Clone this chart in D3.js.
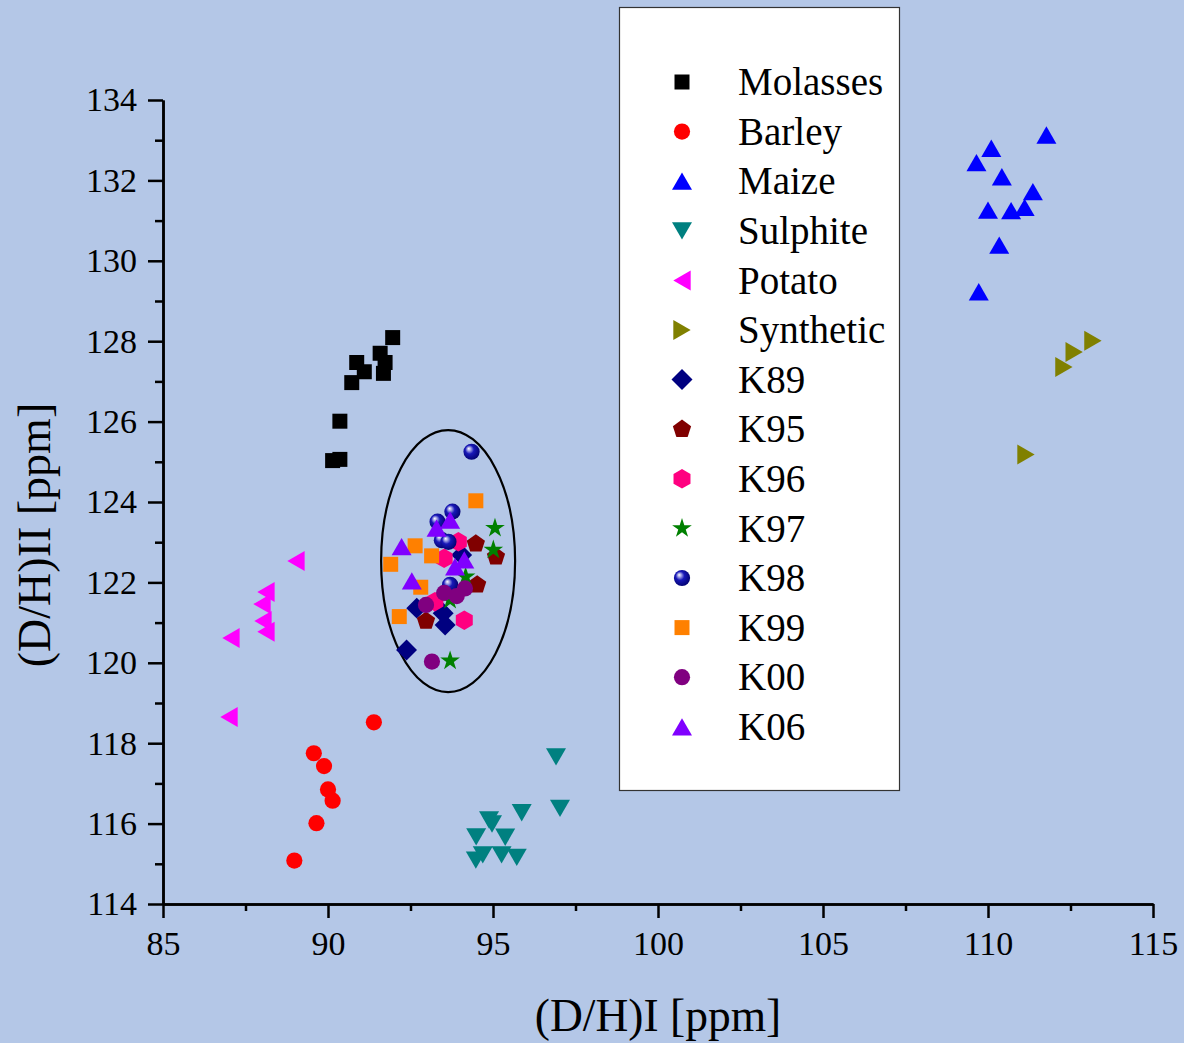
<!doctype html>
<html lang="en">
<head>
<meta charset="utf-8">
<title>D/H scatter</title>
<script src="https://cdn.jsdelivr.net/npm/d3@7"></script>
<style>
  body { margin: 0; background: #b4c7e7; }
  svg { display: block; font-family: "Liberation Serif", "Times New Roman", serif; }
  .axis path, .axis line { stroke: #000; stroke-width: 2.5; }
</style>
</head>
<body>
<script>
// data: [(D/H)I, (D/H)II]
var molasses = [[91.96,128.09],[91.58,127.70],[91.73,127.47],[91.68,127.20],[90.87,127.47],
                [91.10,127.24],[90.72,126.97],[90.36,126.01],[90.36,125.06],[90.14,125.03]];
var barley = [[91.39,118.52],[89.57,117.75],[89.88,117.43],[90.00,116.85],[90.14,116.57],
              [89.65,116.01],[88.98,115.08]];
var maize = [[111.77,133.13],[110.10,132.80],[109.65,132.44],[110.42,132.09],[111.36,131.72],
             [111.11,131.33],[110.00,131.26],[110.70,131.25],[110.34,130.39],[109.72,129.23]];
var sulphite = [[96.91,117.66],[95.87,116.27],[97.03,116.38],[94.88,116.09],[94.97,115.99],
                [94.49,115.67],[95.37,115.66],[94.69,115.22],[94.48,115.09],[95.26,115.22],[95.72,115.16]];
var potato = [[89.03,122.53],[88.12,121.76],[88.00,121.46],[88.03,121.04],[88.12,120.77],
              [87.06,120.62],[87.00,118.65]];
var synthetic = [[113.18,128.01],[112.61,127.73],[112.30,127.36],[111.15,125.18]];
var k89 = [[94.05,122.68],[92.69,121.36],[93.49,121.23],[93.55,120.94],[92.38,120.32]];
var k95 = [[94.48,122.96],[95.09,122.64],[94.52,121.94],[92.97,121.04]];
var k96 = [[93.95,123.01],[93.52,122.60],[93.24,121.52],[94.13,121.06]];
var k97 = [[95.06,123.35],[95.01,122.81],[94.17,122.14],[93.70,121.56],[93.70,120.05]];
var k98 = [[94.35,125.25],[93.77,123.76],[93.32,123.51],[93.45,123.05],[93.65,123.01],[93.70,121.94]];
var k99 = [[94.48,124.03],[92.64,122.91],[93.14,122.66],[91.90,122.45],[92.81,121.88],[92.16,121.15]];
var k00 = [[94.15,121.85],[93.90,121.66],[93.52,121.74],[92.97,121.44],[93.15,120.03]];
var k06 = [[93.70,123.55],[93.29,123.35],[92.23,122.89],[94.13,122.56],[93.85,122.39],[92.54,122.04]];

var seriesNames = ["Molasses","Barley","Maize","Sulphite","Potato","Synthetic",
                   "K89","K95","K96","K97","K98","K99","K00","K06"];
var seriesData = [molasses, barley, maize, sulphite, potato, synthetic,
                  k89, k95, k96, k97, k98, k99, k00, k06];

var xTicks = [85, 90, 95, 100, 105, 110, 115];
var yTicks = [114, 116, 118, 120, 122, 124, 126, 128, 130, 132, 134];

// ellipse around the K samples: centre and radii in data units
var ellipseCenter = [93.64, 122.53];
var ellipseRadii = [2.03, 3.26];

// polygon symbol, size = radius^2
var poly = function(pts) {
    return { draw: function(ctx, size) {
        var r = Math.sqrt(size);
        pts.forEach(function(p, i) {
            if (i) ctx.lineTo(p[0] * r, p[1] * r); else ctx.moveTo(p[0] * r, p[1] * r);
        });
        ctx.closePath();
    }};
};
var ngon = function(n) {
    return poly(d3.range(n).map(function(i) {
        var a = -Math.PI / 2 + i * 2 * Math.PI / n;
        return [Math.cos(a), Math.sin(a)];
    }));
};
var triUp = poly([[0,-0.866],[1,0.866],[-1,0.866]]);
var triDown = poly([[0,0.866],[1,-0.866],[-1,-0.866]]);
var triLeft = poly([[-0.866,0],[0.866,-1],[0.866,1]]);
var triRight = poly([[0.866,0],[-0.866,-1],[-0.866,1]]);
var diamond = poly([[0,-1],[1,0],[0,1],[-1,0]]);

var styles = [
    {type: d3.symbolSquare, size: 225, fill: "#000000"},
    {type: d3.symbolCircle, size: 206, fill: "#ff0000"},
    {type: triUp, size: 100, fill: "#0000ff"},
    {type: triDown, size: 100, fill: "#008080"},
    {type: triLeft, size: 100, fill: "#ff00ff"},
    {type: triRight, size: 100, fill: "#808000"},
    {type: diamond, size: 110, fill: "#000080"},
    {type: ngon(5), size: 92, fill: "#800000"},
    {type: ngon(6), size: 96, fill: "#ff0080"},
    {type: d3.symbolStar, size: 120, fill: "#008000"},
    {type: d3.symbolCircle, size: 206, fill: "url(#sphere)"},
    {type: d3.symbolSquare, size: 225, fill: "#ff8000"},
    {type: d3.symbolCircle, size: 206, fill: "#800080"},
    {type: triUp, size: 100, fill: "#8000ff"}
];

var W = 1184, H = 1043;
var serif = "'Liberation Serif', 'Times New Roman', serif";
var xScale = d3.scaleLinear().domain([85, 115]).range([163, 1153]);
var yScale = d3.scaleLinear().domain([114, 134]).range([904, 100]);

var svg = d3.select("body").append("svg")
            .attr("width", W)
            .attr("height", H);

svg.append("rect").attr("width", W).attr("height", H).attr("fill", "#b4c7e7");

var grad = svg.append("defs").append("radialGradient")
              .attr("id", "sphere")
              .attr("cx", "0.45").attr("cy", "0.45").attr("r", "0.6")
              .attr("fx", "0.32").attr("fy", "0.3");
grad.append("stop").attr("offset", "0").attr("stop-color", "#ffffff");
grad.append("stop").attr("offset", "0.18").attr("stop-color", "#a8a8e8");
grad.append("stop").attr("offset", "0.45").attr("stop-color", "#1818b8");
grad.append("stop").attr("offset", "1").attr("stop-color", "#00006a");

// minor ticks first, then major ticks with labels
svg.append("g").attr("class", "axis")
   .attr("transform", "translate(163,0)")
   .call(d3.axisLeft(yScale).tickValues(d3.range(115, 134, 2)).tickSize(8).tickSizeOuter(0).tickFormat(""));
var yAxisG = svg.append("g").attr("class", "axis")
   .attr("transform", "translate(163,0)")
   .call(d3.axisLeft(yScale).tickValues(yTicks).tickSize(15).tickSizeOuter(0).tickPadding(11));

svg.append("g").attr("class", "axis")
   .attr("transform", "translate(0,904)")
   .call(d3.axisBottom(xScale).tickValues([87.5, 92.5, 97.5, 102.5, 107.5, 112.5]).tickSize(7).tickSizeOuter(0).tickFormat(""));
var xAxisG = svg.append("g").attr("class", "axis")
   .attr("transform", "translate(0,904)")
   .call(d3.axisBottom(xScale).tickValues(xTicks).tickSize(14).tickSizeOuter(0).tickPadding(13));

[xAxisG, yAxisG].forEach(function(g) {
    g.attr("font-family", serif).attr("font-size", 34);
    g.selectAll("text").style("font-family", serif).style("font-size", "34px").attr("fill", "#000");
});

// axis titles
svg.append("text")
   .attr("x", 658).attr("y", 1031)
   .attr("text-anchor", "middle")
   .attr("font-size", 45.5)
   .text("(D/H)I [ppm]");
svg.append("text")
   .attr("transform", "translate(50,535) rotate(-90)")
   .attr("text-anchor", "middle")
   .attr("font-size", 46)
   .text("(D/H)II [ppm]");

// ellipse
svg.append("ellipse")
   .attr("cx", xScale(ellipseCenter[0]))
   .attr("cy", yScale(ellipseCenter[1]))
   .attr("rx", xScale(ellipseCenter[0] + ellipseRadii[0]) - xScale(ellipseCenter[0]))
   .attr("ry", yScale(ellipseCenter[1]) - yScale(ellipseCenter[1] + ellipseRadii[1]))
   .attr("fill", "none")
   .attr("stroke", "#000")
   .attr("stroke-width", 2.2);

// points
seriesData.forEach(function(data, i) {
    var st = styles[i];
    svg.append("g").selectAll("path")
       .data(data)
       .enter().append("path")
       .attr("transform", d => "translate(" + xScale(d[0]) + "," + yScale(d[1]) + ")")
       .attr("d", d3.symbol().type(st.type).size(st.size))
       .attr("fill", st.fill);
});

// legend
var legend = svg.append("g");
legend.append("rect")
      .attr("x", 619.5).attr("y", 7.5)
      .attr("width", 280).attr("height", 783)
      .attr("fill", "#fff")
      .attr("stroke", "#333")
      .attr("stroke-width", 1.2);

var rows = legend.selectAll("g.row")
                 .data(seriesNames)
                 .enter().append("g")
                 .attr("class", "row")
                 .attr("transform", (d, i) => "translate(0," + (82 + i * 49.6) + ")");
rows.append("path")
    .attr("transform", "translate(682,0)")
    .attr("d", (d, i) => d3.symbol().type(styles[i].type).size(styles[i].size)())
    .attr("fill", (d, i) => styles[i].fill);
rows.append("text")
    .attr("x", 738).attr("dy", "0.34em")
    .attr("font-size", 39)
    .text(d => d);
</script>
</body>
</html>
